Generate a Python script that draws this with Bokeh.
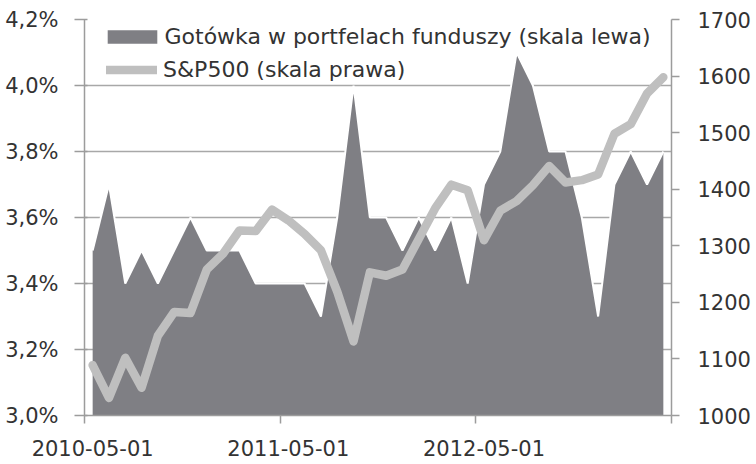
import pandas as pd
from bokeh.plotting import figure
from bokeh.models import (ColumnDataSource, Range1d, LinearAxis, FixedTicker,
                          Legend, LegendItem)
from bokeh.embed import file_html
from bokeh.resources import INLINE

# ---- data -------------------------------------------------------------
months = [d.strftime("%Y-%m-%d") for d in pd.date_range("2010-05-01", periods=36, freq="MS")]

cash_pct = [3.5, 3.7, 3.4, 3.5, 3.4, 3.5, 3.6, 3.5, 3.5, 3.5, 3.4, 3.4,
            3.4, 3.4, 3.3, 3.6, 4.0, 3.6, 3.6, 3.5, 3.6, 3.5, 3.6, 3.4,
            3.7, 3.8, 4.1, 4.0, 3.8, 3.8, 3.6, 3.3, 3.7, 3.8, 3.7, 3.8]

sp500 = [1089, 1031, 1102, 1049, 1141, 1183, 1181, 1258, 1286, 1327, 1326, 1364,
         1345, 1321, 1292, 1219, 1131, 1253, 1247, 1258, 1312, 1366, 1408, 1398,
         1310, 1362, 1379, 1407, 1441, 1412, 1416, 1426, 1498, 1515, 1569, 1598]

left_ticks = [3.0, 3.2, 3.4, 3.6, 3.8, 4.0, 4.2]
left_labels = ["3,0%", "3,2%", "3,4%", "3,6%", "3,8%", "4,0%", "4,2%"]
right_ticks = [1000, 1100, 1200, 1300, 1400, 1500, 1600, 1700]
x_label_idx = [0, 12, 24]
x_labels = [months[i] for i in x_label_idx]

label_cash = "Gotówka w portfelach funduszy (skala lewa)"
label_sp = "S&P500 (skala prawa)"

# ---- styling ----------------------------------------------------------
FONT = "DejaVu Sans"
TXT = "#333333"
AXC = "#9c9c9c"
GRID = "#a8a8a8"
AREA = "#7f7f84"
LINE = "#bfbfbf"

n = len(months)
src = ColumnDataSource(dict(x=list(range(n)), cash=cash_pct, sp=sp500))

p = figure(width=756, height=464, output_backend="svg", toolbar_location=None,
           x_range=Range1d(-0.5, n - 0.5), y_range=Range1d(left_ticks[0], left_ticks[-1]),
           min_border_left=84, min_border_right=85, min_border_top=19, min_border_bottom=49)
p.extra_y_ranges = {"sp": Range1d(right_ticks[0], right_ticks[-1])}
p.outline_line_color = None
p.background_fill_color = "white"
p.border_fill_color = "white"

area = p.varea(x="x", y1=left_ticks[0], y2="cash", source=src, fill_color=AREA)
p.line(x="x", y="cash", source=src, line_color="white", line_width=2)
spl = p.line(x="x", y="sp", source=src, y_range_name="sp", line_color=LINE,
             line_width=8.5, line_join="round", line_cap="round")

# left axis
ya = p.yaxis[0]
ya.ticker = FixedTicker(ticks=left_ticks)
ya.major_label_overrides = dict(zip(left_ticks, left_labels))
ya.axis_line_color = AXC
ya.axis_line_width = 1.5
ya.major_tick_line_color = AXC
ya.major_tick_line_width = 1.5
ya.major_tick_out = 10
ya.major_tick_in = 3
ya.minor_tick_line_color = None
ya.major_label_standoff = 16
ya.major_label_text_font = FONT
ya.major_label_text_font_size = "21px"
ya.major_label_text_color = TXT

# right axis
ra = LinearAxis(y_range_name="sp", ticker=FixedTicker(ticks=right_ticks))
ra.axis_line_color = AXC
ra.axis_line_width = 1.5
ra.major_tick_line_color = AXC
ra.major_tick_line_width = 1.5
ra.major_tick_out = 8
ra.major_tick_in = 0
ra.minor_tick_line_color = None
ra.major_label_standoff = 18
ra.major_label_text_font = FONT
ra.major_label_text_font_size = "21px"
ra.major_label_text_color = TXT
p.add_layout(ra, "right")

# bottom axis
xa = p.xaxis[0]
xa.ticker = FixedTicker(ticks=x_label_idx,
                        minor_ticks=[-0.5, 11.5, 23.5, 35.5])
xa.major_label_overrides = dict(zip(x_label_idx, x_labels))
xa.axis_line_color = AXC
xa.axis_line_width = 1.5
xa.major_tick_line_color = None
xa.minor_tick_line_color = AXC
xa.minor_tick_line_width = 1.5
xa.minor_tick_out = 8
xa.minor_tick_in = 0
xa.major_label_standoff = 16
xa.major_label_text_font = FONT
xa.major_label_text_font_size = "21px"
xa.major_label_text_color = TXT

# grid
p.xgrid.visible = False
p.ygrid.grid_line_color = GRID
p.ygrid.grid_line_width = 1.5

# legends
common = dict(padding=0, margin=0, spacing=0, background_fill_alpha=0,
              border_line_alpha=0, label_text_font=FONT,
              label_text_font_size="22px", label_text_color=TXT)
leg1 = Legend(items=[LegendItem(label=label_cash, renderers=[area])],
              location=(16.5, 366), glyph_width=62, glyph_height=17,
              label_standoff=2, **common)
leg2 = Legend(items=[LegendItem(label=label_sp, renderers=[spl])],
              location=(22, 333), glyph_width=51, glyph_height=17,
              label_standoff=6, **common)
p.add_layout(leg1)
p.add_layout(leg2)

open("out.html", "w").write(file_html(p, INLINE))
